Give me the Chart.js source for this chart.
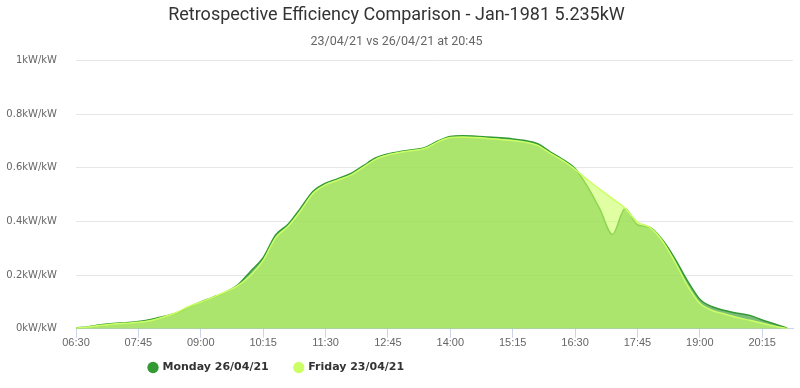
<!DOCTYPE html>
<html>
<head>
<meta charset="utf-8">
<script src="https://cdn.jsdelivr.net/npm/chart.js@4/dist/chart.umd.min.js"></script>
<style>
  html,body{margin:0;padding:0;background:#fff;}
  #wrap{width:800px;height:388px;position:relative;}
</style>
</head>
<body>
<div id="wrap"><canvas id="c" width="800" height="388"></canvas></div>
<script>
const times = ['06:30','06:45','07:00','07:15','07:30','07:45','08:00','08:15','08:30','08:45',
  '09:00','09:15','09:30','09:45','10:00','10:15','10:30','10:45','11:00','11:15',
  '11:30','11:45','12:00','12:15','12:30','12:45','13:00','13:15','13:30','13:45',
  '14:00','14:15','14:30','14:45','15:00','15:15','15:30','15:45','16:00','16:15',
  '16:30','16:45','17:00','17:15','17:30','17:45','18:00','18:15','18:30','18:45',
  '19:00','19:15','19:30','19:45','20:00','20:15','20:30','20:45'];

const monday = [0.003,0.008,0.015,0.020,0.023,0.027,0.035,0.046,0.058,0.080,
  0.100,0.118,0.137,0.165,0.215,0.265,0.350,0.390,0.450,0.513,
  0.543,0.560,0.578,0.607,0.637,0.652,0.661,0.668,0.676,0.700,
  0.717,0.720,0.718,0.715,0.712,0.708,0.702,0.690,0.660,0.632,
  0.598,0.530,0.445,0.352,0.448,0.388,0.378,0.332,0.262,0.180,
  0.110,0.082,0.068,0.058,0.050,0.033,0.018,0.002];

const friday = [0.003,0.007,0.013,0.018,0.021,0.024,0.031,0.044,0.060,0.082,
  0.100,0.118,0.138,0.162,0.200,0.255,0.340,0.382,0.440,0.505,
  0.537,0.555,0.573,0.602,0.632,0.648,0.658,0.665,0.673,0.697,
  0.713,0.715,0.713,0.710,0.706,0.702,0.696,0.684,0.655,0.628,
  0.595,0.555,0.520,0.485,0.450,0.398,0.378,0.328,0.250,0.162,
  0.095,0.068,0.055,0.042,0.032,0.021,0.010,0.001];

const seriesNames = ['Monday 26/04/21','Friday 23/04/21'];
const seriesColors = ['#339933','#ccff66'];
const yTicks = [0,0.2,0.4,0.6,0.8,1];

const titleFont = "Roboto,'Noto Sans',sans-serif";
const narrow = "'Liberation Sans Narrow','Arial Narrow',sans-serif";
const verdana = "'DejaVu Sans',Verdana,sans-serif";

function toMin(t){ const [h,m] = t.split(':').map(Number); return h*60+m - 390; }
function toTime(v){ const m = v+390; return String(Math.floor(m/60)).padStart(2,'0')+':'+String(m%60).padStart(2,'0'); }
const pts = arr => arr.map((v,i)=>({x:toMin(times[i]), y:v}));

// legend placement like the original (left of centre, close under the axis)
const legendShift = {
  id:'legendShift',
  afterLayout(chart){
    const lg = chart.legend;
    const w = lg.right - lg.left, h = lg.bottom - lg.top;
    lg.left = 123; lg.right = lg.left + w;
    lg.top = 336; lg.bottom = lg.top + h;
  }
};

new Chart(document.getElementById('c'), {
  type:'line',
  data:{ datasets:[
    { label:seriesNames[0], data:pts(monday), borderColor:seriesColors[0], backgroundColor:'rgba(51,153,51,0.65)',
      borderWidth:1.5, fill:'origin', pointRadius:0, cubicInterpolationMode:'monotone', order:1 },
    { label:seriesNames[1], data:pts(friday), borderColor:seriesColors[1], backgroundColor:'rgba(204,255,102,0.6)',
      borderWidth:1.5, fill:'origin', pointRadius:0, cubicInterpolationMode:'monotone', order:0 }
  ]},
  options:{
    responsive:false, animation:false, devicePixelRatio:1,
    layout:{ padding:{ left:0, right:7, top:0, bottom:-8 } },
    plugins:{
      title:{ display:true, text:'Retrospective Efficiency Comparison - Jan-1981 5.235kW', color:'#333333',
        font:{ family:titleFont, size:18, weight:'normal' }, padding:{ top:5, bottom:5 } },
      subtitle:{ display:true, text:'23/04/21 vs 26/04/21 at 20:45', color:'#666666',
        font:{ family:titleFont, size:12.5 }, padding:{ top:3, bottom:11 } },
      legend:{ position:'bottom', align:'start',
        labels:{ usePointStyle:true, pointStyle:'circle', boxWidth:8, boxHeight:8, padding:26, color:'#333333',
          font:{ family:verdana, size:11, weight:'bold' },
          generateLabels:(chart)=>Chart.defaults.plugins.legend.labels.generateLabels(chart)
            .map(l=>Object.assign(l,{ fillStyle:seriesColors[l.datasetIndex], strokeStyle:seriesColors[l.datasetIndex], lineWidth:0 })),
          sort:(a,b)=>a.datasetIndex-b.datasetIndex } },
      tooltip:{ enabled:false }
    },
    scales:{
      x:{ type:'linear', min:0, max:862,
        grid:{ display:true, drawOnChartArea:false, drawTicks:true, tickLength:9, color:'#ccd6eb' },
        border:{ display:true, color:'#ccd6eb' },
        ticks:{ stepSize:75, includeBounds:false, padding:-1, color:'#666666', font:{ family:narrow, size:11 },
          maxRotation:0, autoSkip:false, callback:v=>toTime(v) } },
      y:{ min:0, max:1, afterFit:s=>{ s.width = 76; },
        afterBuildTicks:s=>{ s.ticks = yTicks.map(v=>({value:v})); },
        grid:{ color:'#e6e6e6', drawTicks:false },
        border:{ display:false },
        ticks:{ padding:19, color:'#666666', font:{ family:verdana, size:10 }, callback:v=>v+'kW/kW' } }
    }
  },
  plugins:[legendShift]
});
</script>
</body>
</html>
